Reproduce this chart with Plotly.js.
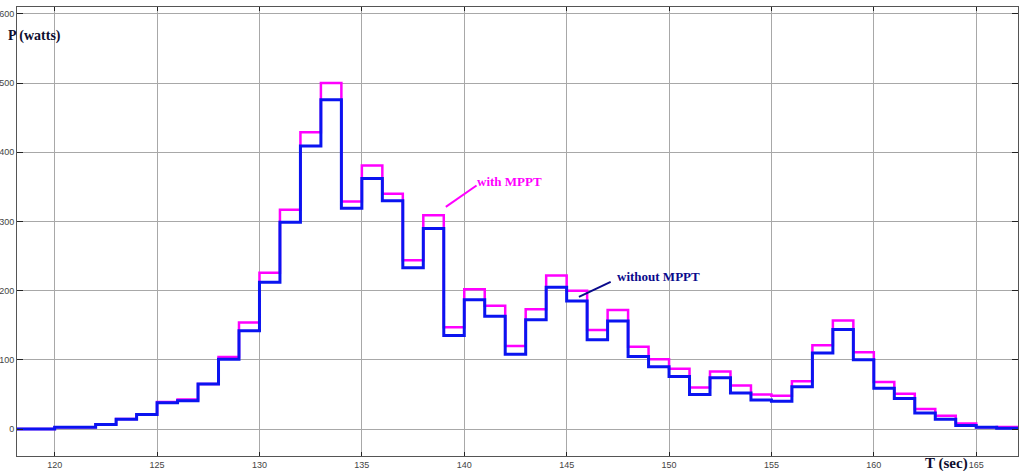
<!DOCTYPE html>
<html>
<head>
<meta charset="utf-8">
<script src="https://cdn.plot.ly/plotly-3.0.1.min.js"></script>
<style>html,body{margin:0;padding:0;background:#fff;}#chart{width:1024px;height:471px;}</style>
</head>
<body>
<div id="chart"></div>
<script>
// Step start times (seconds); last entry closes the final step
const timeSec = [118,120,121,122,123,124,125,126,127,128,129,130,131,132,133,134,135,136,137,138,139,140,141,142,143,144,145,146,147,148,149,150,151,152,153,154,155,156,157,158,159,160,161,162,163,164,165,166,167.1];
// Power with MPPT (watts)
const powerWithMPPT = [0,2.5,2.5,7,14.5,21,39,42.5,65,104,154,226,317,429,500,329,381,340,244,309,147,202,178,120,173,222,200,143,172,119,101,87,60,83,63,50,48,69,121,157,111,68,51,29,19,8,2.5,3,3];
// Power without MPPT (watts)
const powerWithoutMPPT = [0,2.5,2.5,6.5,14,21,38,41,65,101,142,212,299,409,476,319,362,330,233,290,135,187,163,108,158,205,185,129,156,105,90,76,50,74,52,42,40,61,110,144,100,59,44,23,14,5,2.5,1,1];
const xTicks = [120,125,130,135,140,145,150,155,160,165];
const yTicks = [0,100,200,300,400,500,600];

const traces = [
  {x: timeSec, y: powerWithMPPT, type: 'scatter', mode: 'lines', line: {shape: 'hv', color: '#ff00ff', width: 2.5}, name: 'with MPPT'},
  {x: timeSec, y: powerWithoutMPPT, type: 'scatter', mode: 'lines', line: {shape: 'hv', color: '#0a14f0', width: 3}, name: 'without MPPT'}
];

const layout = {
  width: 1024, height: 471,
  margin: {l: 17, r: 6, t: 7, b: 15, pad: 0},
  paper_bgcolor: '#ffffff', plot_bgcolor: '#ffffff',
  showlegend: false,
  xaxis: {
    range: [118.16, 167.04], tickvals: xTicks, ticktext: xTicks.map(String),
    showgrid: true, gridcolor: '#a8a8a8', gridwidth: 1, zeroline: false,
    showline: true, linecolor: '#555555', linewidth: 1, mirror: 'ticks',
    ticks: 'inside', ticklen: 4, tickcolor: '#222222',
    tickfont: {family: 'Arial, Liberation Sans, sans-serif', size: 9, color: '#444444'}
  },
  yaxis: {
    range: [-39, 610], tickvals: yTicks, ticktext: yTicks.map(String),
    showgrid: true, gridcolor: '#a8a8a8', gridwidth: 1, zeroline: false,
    showline: true, linecolor: '#555555', linewidth: 1, mirror: 'ticks',
    ticks: 'inside', ticklen: 6, tickcolor: '#222222',
    tickfont: {family: 'Arial, Liberation Sans, sans-serif', size: 9, color: '#444444'}
  },
  shapes: [
    {type: 'line', xref: 'x', yref: 'y', x0: 139.1, y0: 321, x1: 140.6, y1: 352, line: {color: '#ff00ff', width: 2}},
    {type: 'line', xref: 'x', yref: 'y', x0: 145.6, y0: 191, x1: 147.15, y1: 212.6, line: {color: '#0a0a8c', width: 2}}
  ],
  annotations: [
    {x: 142.2, y: 358, xref: 'x', yref: 'y', text: '<b>with MPPT</b>', showarrow: false,
     font: {family: 'Liberation Serif, Times New Roman, serif', size: 13, color: '#ff00ff'}},
    {x: 149.5, y: 221, xref: 'x', yref: 'y', text: '<b>without MPPT</b>', showarrow: false,
     font: {family: 'Liberation Serif, Times New Roman, serif', size: 13, color: '#0a0a8c'}},
    {x: -0.0107, y: 0.935, xref: 'paper', yref: 'paper', xanchor: 'left', yanchor: 'middle', text: '<b>P (watts)</b>', showarrow: false,
     font: {family: 'Liberation Serif, Times New Roman, serif', size: 14, color: '#0d0d2e'}},
    {x: 0.905, y: -0.0156, xref: 'paper', yref: 'paper', xanchor: 'left', yanchor: 'middle', text: '<b>T (sec)</b>', showarrow: false,
     font: {family: 'Liberation Serif, Times New Roman, serif', size: 15, color: '#0d0d2e'}}
  ]
};

Plotly.newPlot('chart', traces, layout, {displayModeBar: false, staticPlot: true});
</script>
</body>
</html>
